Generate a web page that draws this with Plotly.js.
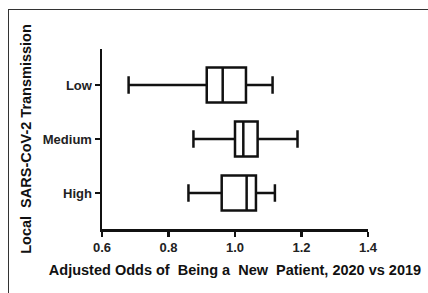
<!DOCTYPE html>
<html><head><meta charset="utf-8">
<script src="https://cdn.plot.ly/plotly-3.0.1.min.js"></script>
<style>
html,body{margin:0;padding:0;background:#fff;}
#frame{position:absolute;left:8px;top:9px;width:420px;height:284px;border-top:1.5px solid #333;border-left:1.5px solid #333;box-sizing:border-box;}
#chart{position:absolute;left:0;top:0;width:428px;height:293px;}
</style>
</head><body>
<div id="frame"></div>
<div id="chart"></div>
<script>
var categories = ['Low', 'Medium', 'High'];
var lowerWhisker = [0.68, 0.875, 0.86];
var q1Values = [0.915, 1.0, 0.96];
var medianValues = [0.963, 1.025, 1.035];
var q3Values = [1.033, 1.068, 1.063];
var upperWhisker = [1.113, 1.188, 1.12];
var xTickValues = [0.6, 0.8, 1.0, 1.2, 1.4];
var xTickLabels = ['0.6', '0.8', '1.0', '1.2', '1.4'];

var font = 'Liberation Sans, Arial, sans-serif';
var trace = {
  type: 'box',
  orientation: 'h',
  y: categories,
  q1: q1Values,
  median: medianValues,
  q3: q3Values,
  lowerfence: lowerWhisker,
  upperfence: upperWhisker,
  width: 0.65,
  whiskerwidth: 0.5,
  fillcolor: 'rgba(255,255,255,0)',
  line: {color: '#111', width: 2.5},
  boxpoints: false,
  hoverinfo: 'skip'
};
var layout = {
  width: 428, height: 293,
  margin: {l: 102, r: 60, t: 49, b: 64},
  paper_bgcolor: 'rgba(0,0,0,0)',
  plot_bgcolor: 'rgba(0,0,0,0)',
  showlegend: false,
  xaxis: {
    range: [0.6, 1.4],
    tickvals: xTickValues, ticktext: xTickLabels,
    showgrid: false, zeroline: false,
    showline: true, linecolor: '#111', linewidth: 2.5,
    ticks: 'outside', ticklen: 5, tickwidth: 2.5, tickcolor: '#111',
    tickfont: {family: font, size: 13, color: '#222', weight: 'bold'},
    title: {text: 'Adjusted Odds of\u00a0 Being a\u00a0 New\u00a0 Patient, 2020 vs 2019', standoff: 11,
            font: {family: font, size: 14.5, color: '#111', weight: 'bold'}}
  },
  yaxis: {
    type: 'category',
    categoryorder: 'array', categoryarray: categories,
    range: [2.667, -0.667],
    showgrid: false, zeroline: false,
    showline: true, linecolor: '#111', linewidth: 2.5,
    ticks: 'outside', ticklen: 5, tickwidth: 2.5, tickcolor: '#111',
    tickfont: {family: font, size: 13, color: '#222', weight: 'bold'},
    title: {text: 'Local\u00a0 SARS-CoV-2 Transmission', standoff: 8,
            font: {family: font, size: 14.5, color: '#111', weight: 'bold'}}
  }
};
Plotly.newPlot('chart', [trace], layout, {displayModeBar: false, staticPlot: true});
</script>
</body></html>
